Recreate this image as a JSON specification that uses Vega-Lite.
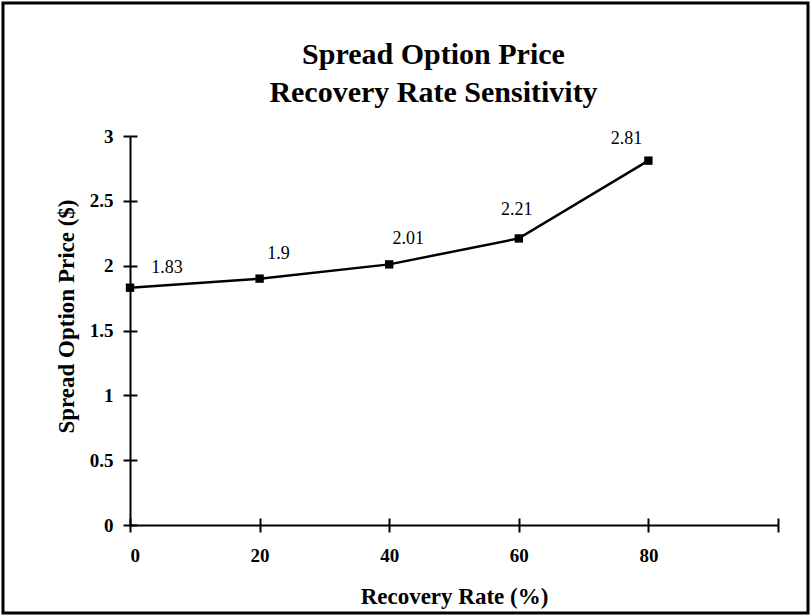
{
  "$schema": "https://vega.github.io/schema/vega-lite/v6.json",
  "autosize": "none",
  "width": 805,
  "height": 610,
  "padding": {"left": 3, "top": 3, "right": 3, "bottom": 3},
  "background": "white",
  "config": {
    "view": {"stroke": "black", "strokeWidth": 3},
    "font": "Liberation Serif"
  },
  "title": {
    "text": ["Spread Option Price", "Recovery Rate Sensitivity"],
    "font": "Liberation Serif",
    "fontSize": 30,
    "fontWeight": "bold",
    "color": "black",
    "lineHeight": 38,
    "anchor": "middle",
    "baseline": "top",
    "offset": -54,
    "dx": 28,
    "dy": 51
  },
  "data": {
    "values": [
      {"rate": 0, "price": 1.83},
      {"rate": 20, "price": 1.9},
      {"rate": 40, "price": 2.01},
      {"rate": 60, "price": 2.21},
      {"rate": 80, "price": 2.81}
    ]
  },
  "layer": [
    {
      "encoding": {
        "x": {
          "field": "rate",
          "type": "quantitative",
          "scale": {"domain": [0, 100], "range": [127, 775], "nice": false, "zero": false},
          "axis": {
            "title": "Recovery Rate (%)",
            "orient": "bottom",
            "offset": -88,
            "values": [0, 20, 40, 60, 80, 100],
            "labelExpr": "datum.value == 100 ? '' : datum.label",
            "grid": false,
            "domainColor": "black",
            "domainWidth": 2,
            "tickColor": "black",
            "tickWidth": 2,
            "tickSize": 7,
            "labelFont": "Liberation Serif",
            "labelFontSize": 19,
            "labelFontWeight": "bold",
            "labelColor": "black",
            "labelPadding": 14,
            "titleFont": "Liberation Serif",
            "titleFontSize": 23,
            "titleFontWeight": "bold",
            "titleColor": "black",
            "titlePadding": 20
          }
        },
        "y": {
          "field": "price",
          "type": "quantitative",
          "scale": {"domain": [0, 3], "range": [522, 133], "nice": false, "zero": false},
          "axis": {
            "title": "Spread Option Price ($)",
            "orient": "left",
            "offset": -127,
            "values": [0, 0.5, 1, 1.5, 2, 2.5, 3],
            "format": "~g",
            "grid": false,
            "domainColor": "black",
            "domainWidth": 2,
            "tickColor": "black",
            "tickWidth": 2,
            "tickSize": 7,
            "labelFont": "Liberation Serif",
            "labelFontSize": 19,
            "labelFontWeight": "bold",
            "labelColor": "black",
            "labelPadding": 10,
            "titleFont": "Liberation Serif",
            "titleFontSize": 23,
            "titleFontWeight": "bold",
            "titleColor": "black",
            "titlePadding": 11,
            "titleY": 313
          }
        }
      },
      "layer": [
        {"mark": {"type": "line", "color": "black", "strokeWidth": 2.5}},
        {"mark": {"type": "point", "shape": "square", "filled": true, "color": "black", "size": 70, "opacity": 1}},
        {
          "transform": [{"filter": "datum.rate == 0"}],
          "mark": {"type": "text", "font": "Liberation Serif", "fontSize": 18, "color": "black", "dx": 37, "dy": -20},
          "encoding": {"text": {"field": "price", "type": "nominal"}}
        },
        {
          "transform": [{"filter": "datum.rate == 20 || datum.rate == 40"}],
          "mark": {"type": "text", "font": "Liberation Serif", "fontSize": 18, "color": "black", "dx": 19, "dy": -25},
          "encoding": {"text": {"field": "price", "type": "nominal"}}
        },
        {
          "transform": [{"filter": "datum.rate == 60"}],
          "mark": {"type": "text", "font": "Liberation Serif", "fontSize": 18, "color": "black", "dx": -2, "dy": -28},
          "encoding": {"text": {"field": "price", "type": "nominal"}}
        },
        {
          "transform": [{"filter": "datum.rate == 80"}],
          "mark": {"type": "text", "font": "Liberation Serif", "fontSize": 18, "color": "black", "dx": -22, "dy": -22},
          "encoding": {"text": {"field": "price", "type": "nominal"}}
        }
      ]
    },
    {
      "mark": {"type": "point", "opacity": 0},
      "encoding": {
        "x": {
          "field": "rate",
          "type": "quantitative",
          "scale": {"domain": [0, 100], "range": [127, 775], "nice": false, "zero": false},
          "axis": {
            "title": null,
            "orient": "bottom",
            "offset": -88,
            "values": [0, 20, 40, 60, 80, 100],
            "labels": false,
            "domain": false,
            "grid": false,
            "tickColor": "black",
            "tickWidth": 2,
            "tickSize": -7
          }
        },
        "y": {
          "field": "price",
          "type": "quantitative",
          "scale": {"domain": [0, 3], "range": [522, 133], "nice": false, "zero": false},
          "axis": {
            "title": null,
            "orient": "left",
            "offset": -127,
            "values": [0, 0.5, 1, 1.5, 2, 2.5, 3],
            "labels": false,
            "domain": false,
            "grid": false,
            "tickColor": "black",
            "tickWidth": 2,
            "tickSize": -7
          }
        }
      }
    }
  ],
  "resolve": {"axis": {"x": "independent", "y": "independent"}}
}
